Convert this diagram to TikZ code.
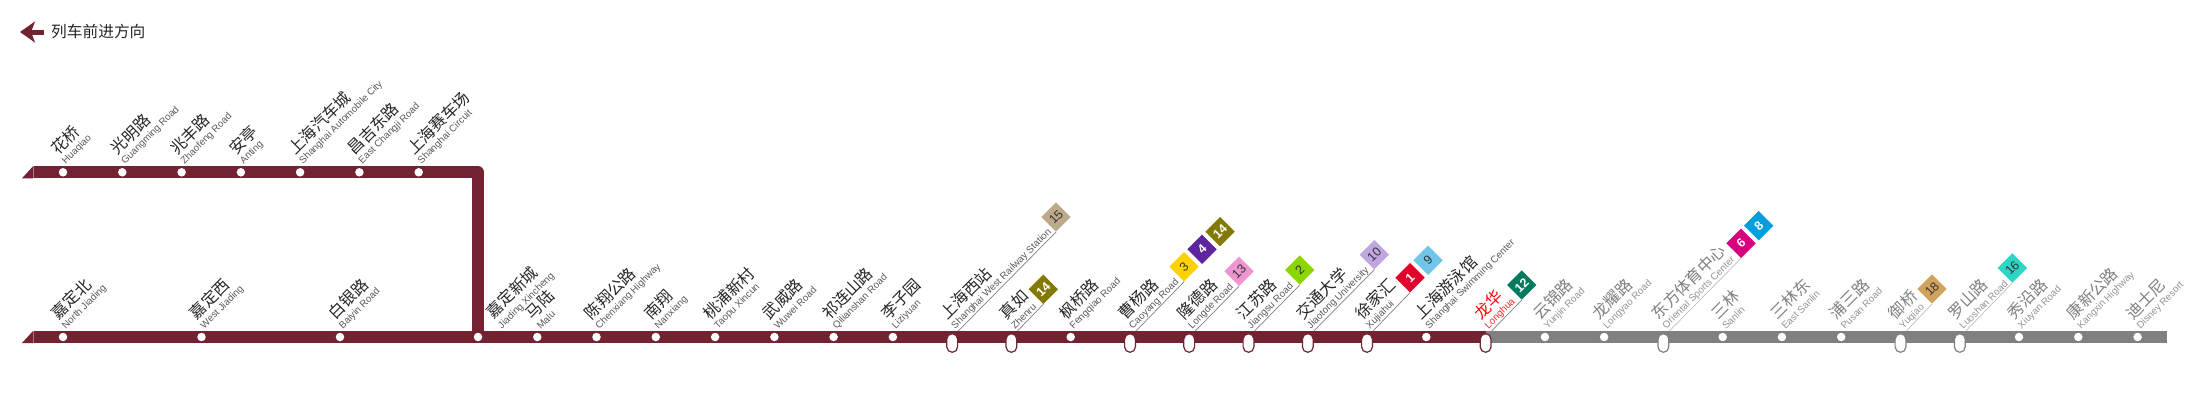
\documentclass[tikz,border=0pt]{standalone}
\usepackage{fontspec}
\usepackage{tikz}
\usetikzlibrary{arrows.meta}
\setmainfont{Liberation Sans}
\newfontfamily\cjk{Noto Sans CJK SC}
\definecolor{mline}{HTML}{722231}
\definecolor{gline}{HTML}{808080}
\definecolor{l1}{HTML}{E3002B}
\definecolor{l2}{HTML}{8CD600}
\definecolor{l3}{HTML}{FFD100}
\definecolor{l4}{HTML}{5F259F}
\definecolor{l6}{HTML}{D7007F}
\definecolor{l8}{HTML}{009EDB}
\definecolor{l9}{HTML}{71C5E8}
\definecolor{l10}{HTML}{C1A7E2}
\definecolor{l12}{HTML}{007B5F}
\definecolor{l13}{HTML}{EF95CF}
\definecolor{l14}{HTML}{827A04}
\definecolor{l15}{HTML}{BDAA8B}
\definecolor{l16}{HTML}{2CD5C4}
\definecolor{l18}{HTML}{D2A35F}
\tikzset{
  track/.style={line width=12pt,line join=round},
  stn/.style={circle,fill=white,inner sep=0pt,minimum size=8.5pt},
  trans/.style={draw=mline,fill=white,line width=1.2pt,rounded corners=5.4pt,inner sep=0pt,
    minimum width=10.8pt,minimum height=18.6pt,yshift=-6pt},
  transg/.style={trans,draw=gline},
  cnlab/.style={font=\cjk\fontsize{16}{16}\selectfont,rotate=45,anchor=west,inner sep=0pt,text=black!85},
  enlab/.style={font=\fontsize{9.8}{10}\selectfont,rotate=45,anchor=west,inner sep=0pt,text=black!65},
  cngray/.style={cnlab,text=black!50},
  engray/.style={enlab,text=black!42},
  cnred/.style={cnlab,text=red},
  enred/.style={enlab,text=red!85},
  badge/.style={rotate=45,minimum size=20.8pt,inner sep=0pt,font=\fontsize{12.5}{12.5}\selectfont,text=black!80},
  badgew/.style={badge,text=white,font=\fontsize{12.5}{12.5}\selectfont\bfseries},
  lead/.style={draw=black!50,line width=.7pt},
  leadg/.style={draw=black!25,line width=.7pt}
}
\begin{document}
\begin{tikzpicture}[x=1pt,y=-1pt]
\useasboundingbox (0,0) rectangle (2200,400);
% direction
\coordinate (dirs) at (44,32);
\coordinate (dire) at (20,32);
\draw[mline,line width=5pt,-{Stealth[length=15pt,width=21pt,inset=4pt]}] (dirs) -- (dire);
\node[font=\cjk\fontsize{15.7}{15.7}\selectfont,anchor=west,inner sep=0pt,text=black!85] (dirl) at (51,32) {列车前进方向};
% tracks
\coordinate (a) at (33,172.3);
\coordinate (b) at (478,172.3);
\coordinate (c) at (478,337);
\coordinate (d) at (33,337);
\coordinate (e) at (1485.6,337);
\coordinate (f) at (2167,337);
\draw[track,mline] (a) -- (b) -- (c);
\draw[track,gline] (e) -- (f);
\draw[track,mline] (d) -- (e);
\fill[mline] (22,178.3) -- (33,166.3) -- (33,178.3) -- cycle;
\fill[mline] (22,343) -- (33,331) -- (33,343) -- cycle;
\draw[mline!60!white,line width=.5pt] (33,166.3) -- (33,178.3);
\draw[mline!60!white,line width=.5pt] (33,331) -- (33,343);
% badges
\node[badge,fill=l15] (b15) at (1056,217) {15};
\node[badgew,fill=l14] (b14a) at (1043.3,289.3) {14};
\node[badge,fill=l3] (b3) at (1184,266.7) {3};
\node[badgew,fill=l4] (b4) at (1202,249.3) {4};
\node[badgew,fill=l14] (b14b) at (1220,231.7) {14};
\node[badge,fill=l13] (b13) at (1239,271.3) {13};
\node[badge,fill=l2] (b2) at (1299.7,270) {2};
\node[badge,fill=l10] (b10) at (1374.3,254.7) {10};
\node[badgew,fill=l1] (b1) at (1410,277.7) {1};
\node[badge,fill=l9] (b9) at (1428,260.3) {9};
\node[badgew,fill=l12] (b12) at (1521.7,285) {12};
\node[badgew,fill=l6] (b6) at (1741,243.3) {6};
\node[badgew,fill=l8] (b8) at (1758.7,225.7) {8};
\node[badge,fill=l18] (b18) at (1932,289) {18};
\node[badge,fill=l16] (b16) at (2012.3,268) {16};
% leads to badges
\foreach \x/\b in {958.2/b15,1017.4/b14a,1136/b3,1195.2/b13,1254.5/b2,1313.8/b10,1373/b1,1491.6/b12}
  {\coordinate (a\b) at (\x,331);
   \draw[lead] (a\b) -- (\b.south west);}
\foreach \x/\b in {1669.4/b6,1906.5/b18,1965.8/b16}
  {\coordinate (a\b) at (\x,331);
   \draw[leadg] (a\b) -- (\b.south west);}
% upper branch
\foreach \x/\cn/\en [count=\i] in {63/花桥/Huaqiao,122.3/光明路/Guangming Road,181.6/兆丰路/Zhaofeng Road,
  240.9/安亭/Anting,300.1/上海汽车城/Shanghai Automobile City,359.4/昌吉东路/East Changji Road,418.7/上海赛车场/Shanghai Circuit}
  {\node[stn] (t\i) at (\x,172.3) {};
   \node[cnlab] (tc\i) at ([shift={(-9,-21)}]\x,172.3) {\cn};
   \node[enlab] (te\i) at ([shift={(1,-9.5)}]\x,172.3) {\en};}
% main line
\node[stn] (jx) at (478,337) {};
\node[cnlab] (jxc) at ([shift={(11,-22)}]478,337) {嘉定新城};
\node[enlab] (jxe) at ([shift={(22,-9.5)}]478,337) {Jiading Xincheng};
\foreach \x/\cn/\en/\st [count=\i] in {63/嘉定北/North Jiading/stn,201.5/嘉定西/West Jiading/stn,340/白银路/Baiyin Road/stn,
  537.3/马陆/Malu/stn,596.5/陈翔公路/Chenxiang Highway/stn,655.8/南翔/Nanxiang/stn,
  715.1/桃浦新村/Taopu Xincun/stn,774.4/武威路/Wuwei Road/stn,833.6/祁连山路/Qilianshan Road/stn,892.9/李子园/Liziyuan/stn,
  952.2/上海西站/Shanghai West Railway Station/trans,1011.4/真如/Zhenru/trans,1070.7/枫桥路/Fengqiao Road/stn,
  1130/曹杨路/Caoyang Road/trans,1189.2/隆德路/Longde Road/trans,1248.5/江苏路/Jiangsu Road/trans,
  1307.8/交通大学/Jiaotong University/trans,1367/徐家汇/Xujiahui/trans,1426.3/上海游泳馆/Shanghai Swimming Center/stn}
  {\node[\st] (s\i) at (\x,337) {};
   \node[cnlab] (sc\i) at ([shift={(-9,-21)}]\x,337) {\cn};
   \node[enlab] (se\i) at ([shift={(1,-9.5)}]\x,337) {\en};}
% current stop
\node[trans] (lh) at (1485.6,337) {};
\node[cnred] (lhc) at ([shift={(-9,-21)}]1485.6,337) {龙华};
\node[enred] (lhe) at ([shift={(1,-9.5)}]1485.6,337) {Longhua};
% not yet open
\foreach \x/\cn/\en/\st [count=\i] in {1544.9/云锦路/Yunjin Road/stn,1604.1/龙耀路/Longyao Road/stn,
  1663.4/东方体育中心/Oriental Sports Center/transg,1722.7/三林/Sanlin/stn,1781.9/三林东/East Sanlin/stn,
  1841.2/浦三路/Pusan Road/stn,1900.5/御桥/Yuqiao/transg,1959.8/罗山路/Luoshan Road/transg,
  2019/秀沿路/Xiuyan Road/stn,2078.3/康新公路/Kangxin Highway/stn,2137.6/迪士尼/Disney Resort/stn}
  {\node[\st] (g\i) at (\x,337) {};
   \node[cngray] (gc\i) at ([shift={(-9,-21)}]\x,337) {\cn};
   \node[engray] (ge\i) at ([shift={(1,-9.5)}]\x,337) {\en};}
\end{tikzpicture}
\end{document}
